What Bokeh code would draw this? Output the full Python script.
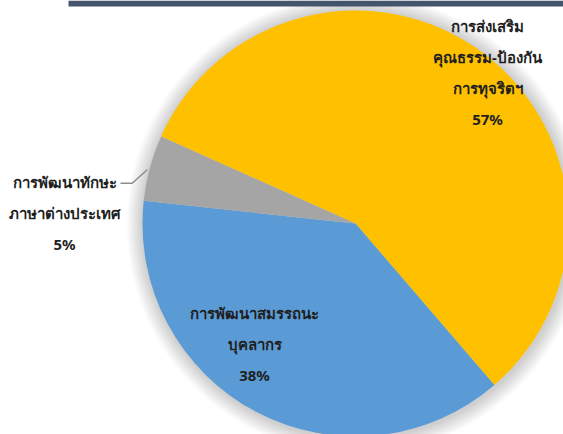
import math
from bokeh.plotting import figure
from bokeh.models import Range1d, ColumnDataSource
from bokeh.core.properties import value
from bokeh.embed import file_html
from bokeh.resources import INLINE

# ---- data ----
categories = ["การส่งเสริมคุณธรรม-ป้องกันการทุจริตฯ", "การพัฒนาสมรรถนะบุคลากร", "การพัฒนาทักษะภาษาต่างประเทศ"]
label_lines = [
    ["การส่งเสริม", "คุณธรรม-ป้องกัน", "การทุจริตฯ"],
    ["การพัฒนาสมรรถนะ", "บุคลากร"],
    ["การพัฒนาทักษะ", "ภาษาต่างประเทศ"],
]
values = [57, 38, 5]
colors = ["#FFC000", "#5B9BD5", "#A5A5A5"]

W, H = 563, 434
p = figure(width=W, height=H, output_backend="svg", toolbar_location=None,
           x_range=Range1d(0, W), y_range=Range1d(0, H), min_border=0)
p.axis.visible = False
p.grid.visible = False
p.outline_line_color = None
p.background_fill_color = "white"

cx, cy, R = 355, 211, 213
first_angle = 294.1  # clockwise from 12 o'clock

# soft shadow glow
N = 16
for i in range(N):
    p.circle(x=[cx + 1], y=[cy - 1], radius=R + 1 + 16 * (i + 1) / N,
             fill_color="black", fill_alpha=0.013, line_color=None)

total = sum(values)
starts, ends = [], []
acc = first_angle
for v in values:
    a0 = acc
    a1 = acc + 360.0 * v / total
    starts.append(math.radians(90 - a0))
    ends.append(math.radians(90 - a1))
    acc = a1

src = ColumnDataSource(dict(start=starts, end=ends, color=colors, cat=categories, val=values))
p.wedge(x=cx, y=cy, radius=R, start_angle="start", end_angle="end", direction="clock",
        fill_color="color", line_color=None, source=src)

# header band (cropped title bar)
p.quad(left=[68], right=[W], bottom=[H - 6], top=[H], fill_color="#44546A", line_color=None)

# labels
anchors = [(487, 409), (254, 122), (64, 253)]
step = 31
tx, ty, tt = [], [], []
for lines, v, (ax, ay) in zip(label_lines, values, anchors):
    allines = lines + [f"{v}%"]
    for k, s in enumerate(allines):
        tx.append(ax)
        ty.append(ay - k * step)
        tt.append(s)
p.text(x=tx, y=ty, text=tt, text_align="center", text_baseline="middle",
       text_font=value("Noto Sans"), text_font_size="15px", text_font_style="bold",
       text_color="#1F1F1F")

# leader line for small slice
p.line(x=[146.7, 131.7, 120], y=[264.7, 251.3, 251.3], line_color="#8C8C8C", line_width=1.5)

open("out.html", "w").write(file_html(p, INLINE))
